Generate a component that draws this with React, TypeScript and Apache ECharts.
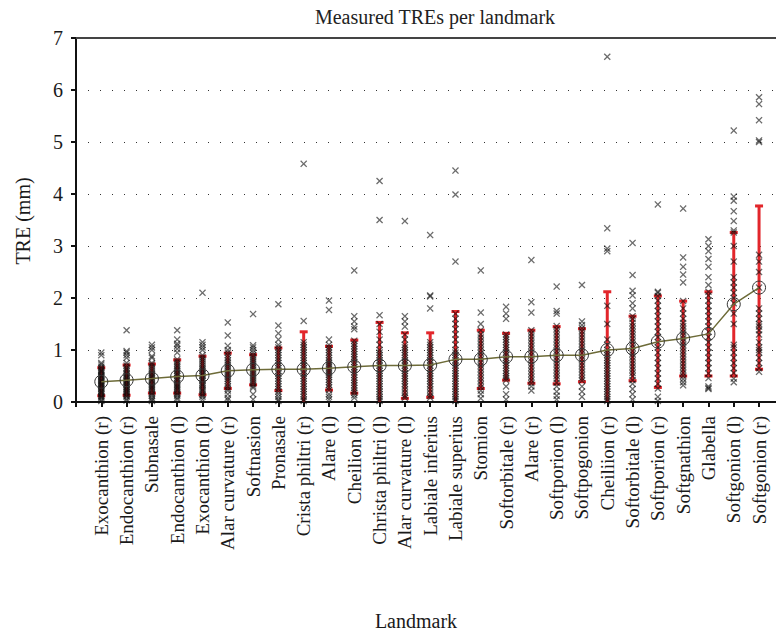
import React, { useEffect, useRef } from "react";
import * as echarts from "echarts";

const landmarks = [
  "Exocanthion (r)", "Endocanthion (r)", "Subnasale", "Endocanthion (l)", "Exocanthion (l)",
  "Alar curvature (r)", "Softnasion", "Pronasale", "Crista philtri (r)", "Alare (l)",
  "Cheilion (l)", "Christa philtri (l)", "Alar curvature (l)", "Labiale inferius", "Labiale superius",
  "Stomion", "Softorbitale (r)", "Alare (r)", "Softporion (l)", "Softpogonion",
  "Cheiliion (r)", "Softorbitale (l)", "Softporion (r)", "Softgnathion", "Glabella",
  "Softgonion (l)", "Softgonion (r)",
];

const meanTRE = [
  0.39, 0.42, 0.45, 0.49, 0.51, 0.6, 0.62, 0.63, 0.63, 0.65,
  0.68, 0.7, 0.7, 0.71, 0.82, 0.82, 0.87, 0.87, 0.9, 0.9,
  1.0, 1.03, 1.16, 1.22, 1.31, 1.88, 2.2,
];

const sdTRE = [
  0.27, 0.29, 0.28, 0.32, 0.37, 0.34, 0.29, 0.41, 0.72, 0.42,
  0.51, 0.83, 0.63, 0.62, 0.92, 0.56, 0.45, 0.51, 0.55, 0.51,
  1.12, 0.62, 0.88, 0.72, 0.81, 1.38, 1.57,
];

const measuredTRE = [
  [0.02,0.05,0.08,0.1,0.12,0.15,0.18,0.2,0.22,0.25,0.27,0.3,0.32,0.34,0.36,0.38,0.4,0.42,0.45,0.48,0.5,0.52,0.55,0.58,0.6,0.62,0.65,0.68,0.72,0.75,0.9,0.95],
  [0.03,0.06,0.1,0.12,0.15,0.18,0.2,0.23,0.25,0.28,0.3,0.33,0.35,0.38,0.4,0.42,0.45,0.47,0.5,0.53,0.56,0.6,0.63,0.66,0.7,0.75,0.85,0.9,0.95,0.98,1.38],
  [0.02,0.05,0.08,0.12,0.15,0.18,0.22,0.25,0.28,0.3,0.33,0.36,0.4,0.42,0.45,0.48,0.5,0.53,0.56,0.6,0.64,0.68,0.72,0.75,0.85,0.88,1.0,1.05,1.1],
  [0.05,0.08,0.12,0.15,0.18,0.22,0.25,0.28,0.3,0.33,0.36,0.4,0.43,0.46,0.5,0.53,0.56,0.6,0.63,0.67,0.7,0.74,0.78,0.82,0.95,1.02,1.08,1.12,1.2,1.38],
  [0.05,0.1,0.13,0.16,0.2,0.23,0.26,0.3,0.33,0.36,0.4,0.43,0.46,0.5,0.53,0.56,0.6,0.63,0.66,0.7,0.74,0.78,0.82,0.86,0.9,1.0,1.05,1.1,1.15,2.1],
  [0.04,0.08,0.15,0.22,0.26,0.3,0.35,0.4,0.44,0.48,0.52,0.56,0.6,0.64,0.68,0.72,0.76,0.8,0.85,0.9,0.95,1.0,1.08,1.28,1.53],
  [0.05,0.15,0.27,0.3,0.34,0.38,0.42,0.46,0.5,0.54,0.58,0.62,0.66,0.7,0.74,0.78,0.82,0.86,0.9,0.95,1.0,1.05,1.09,1.69],
  [0.02,0.05,0.1,0.15,0.2,0.25,0.3,0.35,0.4,0.45,0.5,0.55,0.6,0.65,0.7,0.75,0.8,0.85,0.9,0.95,1.0,1.05,1.1,1.2,1.32,1.47,1.88],
  [0.02,0.05,0.1,0.15,0.2,0.25,0.3,0.35,0.4,0.45,0.5,0.55,0.6,0.65,0.7,0.75,0.8,0.85,0.9,0.95,1.0,1.05,1.1,1.15,1.56,4.58],
  [0.05,0.1,0.15,0.23,0.28,0.33,0.38,0.43,0.48,0.52,0.56,0.6,0.64,0.68,0.72,0.76,0.8,0.85,0.9,0.95,1.0,1.05,1.1,1.2,1.77,1.95],
  [0.08,0.13,0.18,0.22,0.27,0.32,0.37,0.42,0.47,0.52,0.57,0.62,0.67,0.72,0.77,0.82,0.87,0.92,0.97,1.02,1.07,1.12,1.18,1.4,1.45,1.55,1.65,2.53],
  [0.02,0.06,0.1,0.15,0.2,0.25,0.3,0.35,0.4,0.45,0.5,0.55,0.6,0.65,0.7,0.75,0.8,0.85,0.9,0.95,1.0,1.1,1.2,1.35,1.5,1.67,3.5,4.25],
  [0.08,0.12,0.18,0.24,0.3,0.35,0.4,0.45,0.5,0.55,0.6,0.65,0.7,0.75,0.8,0.85,0.9,0.95,1.0,1.05,1.1,1.2,1.3,1.45,1.55,1.65,3.48],
  [0.08,0.12,0.18,0.24,0.3,0.35,0.4,0.45,0.5,0.55,0.6,0.65,0.7,0.75,0.8,0.85,0.9,0.95,1.0,1.05,1.1,1.15,1.8,2.03,2.05,3.21],
  [0.02,0.06,0.1,0.15,0.2,0.25,0.3,0.35,0.4,0.45,0.5,0.55,0.6,0.65,0.7,0.75,0.8,0.85,0.9,0.95,1.0,1.1,1.2,1.3,1.4,1.5,1.6,1.7,2.7,3.99,4.45],
  [0.07,0.15,0.22,0.28,0.34,0.4,0.46,0.52,0.58,0.64,0.7,0.76,0.82,0.88,0.94,1.0,1.06,1.12,1.18,1.24,1.3,1.38,1.5,1.72,2.53],
  [0.05,0.15,0.3,0.42,0.46,0.5,0.55,0.6,0.65,0.7,0.75,0.8,0.85,0.9,0.95,1.0,1.05,1.1,1.15,1.2,1.25,1.3,1.6,1.7,1.83],
  [0.22,0.3,0.36,0.42,0.48,0.54,0.6,0.66,0.72,0.78,0.84,0.9,0.96,1.02,1.08,1.14,1.2,1.26,1.32,1.38,1.72,1.92,2.73],
  [0.05,0.12,0.2,0.3,0.37,0.44,0.5,0.56,0.62,0.68,0.74,0.8,0.86,0.92,0.98,1.04,1.1,1.16,1.22,1.28,1.34,1.4,1.46,1.7,1.75,2.22],
  [0.1,0.2,0.3,0.41,0.46,0.52,0.58,0.64,0.7,0.76,0.82,0.88,0.94,1.0,1.06,1.12,1.18,1.24,1.3,1.36,1.42,1.48,1.55,2.25],
  [0.02,0.06,0.1,0.15,0.2,0.25,0.3,0.35,0.4,0.45,0.5,0.55,0.6,0.65,0.7,0.75,0.8,0.85,0.9,0.95,1.0,1.1,1.2,1.5,1.85,2.9,2.95,3.34,6.64],
  [0.05,0.15,0.25,0.35,0.42,0.5,0.56,0.62,0.68,0.74,0.8,0.86,0.92,0.98,1.04,1.1,1.16,1.22,1.28,1.34,1.4,1.46,1.52,1.6,1.65,1.8,1.9,2.05,2.14,2.44,3.06],
  [0.02,0.1,0.26,0.35,0.45,0.55,0.65,0.75,0.85,0.95,1.05,1.15,1.25,1.35,1.45,1.55,1.65,1.75,1.85,1.95,2.04,2.1,2.12,3.8],
  [0.32,0.38,0.44,0.5,0.56,0.62,0.68,0.74,0.8,0.86,0.92,0.98,1.04,1.1,1.16,1.22,1.28,1.34,1.4,1.46,1.52,1.6,1.7,1.8,1.94,2.3,2.45,2.6,2.78,3.72],
  [0.25,0.27,0.3,0.46,0.55,0.65,0.75,0.85,0.95,1.05,1.15,1.25,1.35,1.45,1.55,1.65,1.75,1.85,1.95,2.05,2.12,2.25,2.4,2.6,2.75,2.9,3.0,3.13],
  [0.38,0.45,0.56,0.65,0.75,0.85,0.95,1.05,1.1,1.5,1.7,1.9,2.0,2.1,2.2,2.3,2.4,2.7,3.0,3.26,3.3,3.48,3.67,3.87,3.95,5.22],
  [0.58,0.65,0.75,0.85,0.95,1.0,1.05,1.15,1.3,1.38,1.45,1.5,1.6,1.7,1.8,2.2,2.5,2.7,2.83,5.0,5.03,5.42,5.73,5.86],
];

const yTicks = [0, 1, 2, 3, 4, 5, 6, 7];

const FONT = "'Liberation Serif', 'DejaVu Serif', serif";
const CROSS = "path://M0,1.3L1.3,0L5,3.7L8.7,0L10,1.3L6.3,5L10,8.7L8.7,10L5,6.3L1.3,10L0,8.7L3.7,5Z";
const RED = "#e2262b";

export default function App() {
  const ref = useRef<HTMLDivElement>(null);

  useEffect(() => {
    if (!ref.current) return;
    const chart = echarts.init(ref.current, null, { renderer: "svg" });

    const scatterData: number[][] = [];
    measuredTRE.forEach((vals, i) => vals.forEach((v) => scatterData.push([i + 1, v])));
    const barData = meanTRE.map((m, i) => [i + 1, Math.max(0, m - sdTRE[i]), m + sdTRE[i]]);
    const meanData = meanTRE.map((m, i) => [i + 1, m]);

    const option: any = {
      animation: false,
      backgroundColor: "#fff",
      title: {
        text: "Measured TREs per landmark",
        left: 430,
        top: 2,
        textAlign: "center",
        textStyle: { fontFamily: FONT, fontSize: 20, fontWeight: "normal", color: "#222" },
      },
      grid: { left: 76, top: 38, right: 0, bottom: 232, outerBoundsMode: "none" },
      xAxis: [
        {
          type: "value",
          min: 0,
          max: 27.67,
          interval: 1,
          splitLine: { show: false },
          axisLine: { show: true, lineStyle: { color: "#111", width: 2 } },
          axisTick: { show: true, inside: false, length: 5, lineStyle: { color: "#111", width: 2 } },
          axisLabel: {
            rotate: 90,
            margin: 14,
            fontFamily: FONT,
            fontSize: 19,
            color: "#1a1a1a",
            showMaxLabel: false,
            formatter: (v: number) => {
              const i = Math.round(v) - 1;
              return Math.abs(v - Math.round(v)) < 1e-6 && i >= 0 && i < landmarks.length ? landmarks[i] : "";
            },
          },
        },
        {
          type: "value",
          position: "top",
          min: 0,
          max: 27.67,
          axisLine: { show: true, lineStyle: { color: "#444", width: 2 } },
          axisTick: { show: false },
          axisLabel: { show: false },
          splitLine: { show: false },
        },
      ],
      yAxis: {
        type: "value",
        min: yTicks[0],
        max: yTicks[yTicks.length - 1],
        interval: 1,
        axisLine: { show: true, lineStyle: { color: "#111", width: 2 } },
        axisTick: { show: true, inside: false, length: 5, lineStyle: { color: "#111", width: 2 } },
        axisLabel: { margin: 13, fontFamily: FONT, fontSize: 20, color: "#1a1a1a" },
        splitLine: { show: true, lineStyle: { color: "#333", width: 1, type: [1, 11] } },
      },
      graphic: [
        {
          type: "text",
          x: 23,
          y: 221,
          rotation: Math.PI / 2,
          style: { text: "TRE (mm)", fontFamily: FONT, fontSize: 20, fill: "#1a1a1a", textAlign: "center", textVerticalAlign: "middle" },
        },
        {
          type: "text",
          x: 416,
          y: 621,
          style: { text: "Landmark", fontFamily: FONT, fontSize: 20, fill: "#1a1a1a", textAlign: "center", textVerticalAlign: "middle" },
        },
      ],
      series: [
        {
          type: "custom",
          z: 1,
          data: barData,
          encode: { x: 0, y: [1, 2] },
          renderItem: (params: any, api: any) => {
            const x = api.value(0);
            const lo = api.value(1);
            const hi = api.value(2);
            const p1 = api.coord([x, lo]);
            const p2 = api.coord([x, hi]);
            const st = { stroke: RED, lineWidth: 3 };
            const children: any[] = [
              { type: "line", shape: { x1: p1[0], y1: p1[1], x2: p2[0], y2: p2[1] }, style: st },
              { type: "line", shape: { x1: p2[0] - 4, y1: p2[1], x2: p2[0] + 4, y2: p2[1] }, style: st },
            ];
            if (lo > 0) {
              children.push({ type: "line", shape: { x1: p1[0] - 4, y1: p1[1], x2: p1[0] + 4, y2: p1[1] }, style: st });
            }
            return { type: "group", children };
          },
        },
        {
          type: "scatter",
          z: 2,
          data: scatterData,
          symbol: CROSS,
          symbolSize: 7,
          itemStyle: { color: "rgba(10,10,10,0.75)" },
          silent: true,
        },
        {
          type: "line",
          z: 3,
          data: meanData,
          symbol: "circle",
          symbolSize: 13,
          showAllSymbol: true,
          lineStyle: { color: "#6d6b38", width: 1.5 },
          itemStyle: { color: "rgba(0,0,0,0)", borderColor: "#333", borderWidth: 1 },
          silent: true,
        },
      ],
    };

    chart.setOption(option);
    return () => chart.dispose();
  }, []);

  return <div ref={ref} style={{ width: 776, height: 634, position: "absolute", left: 0, top: 0 }} />;
}
